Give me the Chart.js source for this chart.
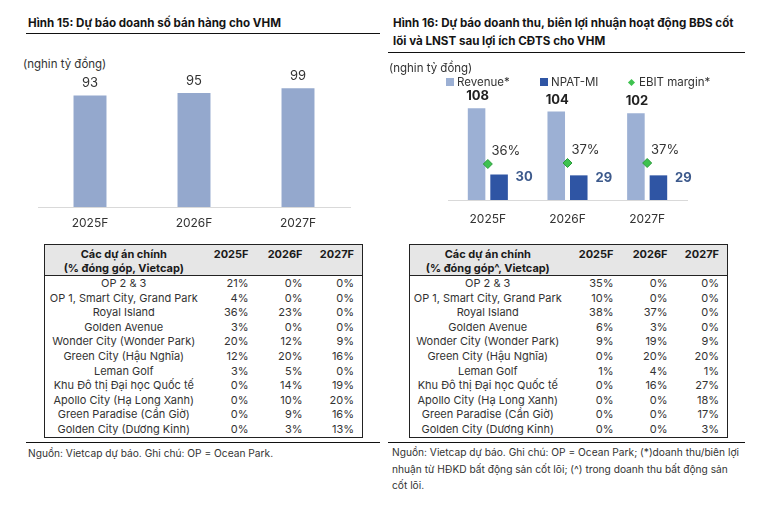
<!DOCTYPE html>
<html>
<head>
<meta charset="utf-8">
<script src="https://cdn.jsdelivr.net/npm/chart.js@4.4.1/dist/chart.umd.min.js"></script>
<style>
  body { margin: 0; width: 774px; height: 506px; background: #fff; font-family: Inter, sans-serif; color: #333; position: relative; overflow: hidden; }
  .abs { position: absolute; white-space: nowrap; }
  .title { font-weight: 700; font-size: 11.6px; line-height: 18px; color: #151515; }
  .rule { position: absolute; height: 1px; background: #111; }
  .unit { font-size: 11.5px; line-height: 14px; color: #333; }
  .note { font-size: 10.2px; line-height: 16.5px; color: #333; }
  .leg { font-size: 11.5px; line-height: 14px; color: #333; }
  .box { display: inline-block; width: 8px; height: 8px; margin-right: 3px; vertical-align: 0px; }
  table { position: absolute; border-collapse: collapse; border: 1px solid #222; font-size: 11px; color: #333; table-layout: fixed; }
  th { background: #e6e6e6; font-weight: 700; color: #1a1a1a; vertical-align: top; height: 30px; box-sizing: border-box; padding: 2px 8px 0 8px; line-height: 14px; text-align: right; border-bottom: 1px solid #222; }
  th.first { text-align: center; }
  td { padding: 0 8px; line-height: 14.6px; height: 14.6px; text-align: right; }
  td.first { text-align: center; padding: 0 2px; }
  canvas { position: absolute; }
</style>
</head>
<body>

<div class="abs title" style="left:28px;top:14px;">Hình 15: Dự báo doanh số bán hàng cho VHM</div>
<div class="rule" style="left:26px;top:33px;width:354px;"></div>
<div class="abs unit" style="left:23px;top:57px;">(nghin tỷ đồng)</div>
<div style="position:absolute;left:0;top:50px;width:390px;height:185px;"><canvas id="left"></canvas></div>

<div class="abs title" style="left:393px;top:14px;">Hình 16: Dự báo doanh thu, biên lợi nhuận hoạt động BĐS cốt<br>lõi và LNST sau lợi ích CĐTS cho VHM</div>
<div class="rule" style="left:388px;top:52px;width:357px;"></div>
<div class="abs unit" style="left:389px;top:61px;">(nghin tỷ đồng)</div>
<div class="abs leg" style="left:446px;top:75px;"><span class="box" style="background:#9cb0d4"></span>Revenue*</div>
<div class="abs leg" style="left:540px;top:75px;"><span class="box" style="background:#2f55a4"></span>NPAT-MI</div>
<div class="abs leg" style="left:629px;top:75px;"><span class="box" style="background:#3ec24f;width:5px;height:5px;transform:rotate(45deg);margin-right:5px;vertical-align:1px;"></span>EBIT margin*</div>
<div style="position:absolute;left:385px;top:60px;width:389px;height:175px;"><canvas id="right"></canvas></div>

<table id="tblLeft" style="left:44px;top:244px;width:318px;"></table>
<table id="tblRight" style="left:409px;top:244px;width:318px;"></table>

<div class="rule" style="left:26px;top:442px;width:354px;"></div>
<div class="abs note" style="left:28px;top:445px;">Nguồn: Vietcap dự báo. Ghi chú: OP = Ocean Park.</div>
<div class="rule" style="left:388px;top:442px;width:357px;"></div>
<div class="abs note" style="left:392px;top:444px;">Nguồn: Vietcap dự báo. Ghi chú: OP = Ocean Park; (*)doanh thu/biên lợi<br>nhuận từ HĐKD bất động sản cốt lõi; (^) trong doanh thu bất động sản<br>cốt lõi.</div>

<script>
const years = ['2025F', '2026F', '2027F'];
const presales = [93, 95, 99];
const revenue = [108, 104, 102];
const npatMi = [30, 29, 29];
const ebitMargin = [36, 37, 37];

const projects = ['OP 2 & 3', 'OP 1, Smart City, Grand Park', 'Royal Island', 'Golden Avenue',
  'Wonder City (Wonder Park)', 'Green City (Hậu Nghĩa)', 'Leman Golf', 'Khu Đô thị Đại học Quốc tế',
  'Apollo City (Hạ Long Xanh)', 'Green Paradise (Cần Giờ)', 'Golden City (Dương Kinh)'];
const salesShare2025 = [21, 4, 36, 3, 20, 12, 3, 0, 0, 0, 0];
const salesShare2026 = [0, 0, 23, 0, 12, 20, 5, 14, 10, 9, 3];
const salesShare2027 = [0, 0, 0, 0, 9, 16, 0, 19, 20, 16, 13];
const revShare2025 = [35, 10, 38, 6, 9, 0, 1, 0, 0, 0, 0];
const revShare2026 = [0, 0, 37, 3, 19, 20, 4, 16, 0, 0, 0];
const revShare2027 = [0, 0, 0, 0, 9, 20, 1, 27, 18, 17, 3];

Chart.defaults.font.family = 'Inter, sans-serif';
Chart.defaults.color = '#333';

function buildTable(id, headLines, cols, widths) {
    const t = document.getElementById(id);
    let html = '<colgroup>' + widths.map(w => `<col style="width:${w}px">`).join('') + '</colgroup>';
    html += `<tr><th class="first">${headLines}</th>` + years.map(y => `<th>${y}</th>`).join('') + '</tr>';
    projects.forEach((p, i) => {
        html += `<tr><td class="first">${p}</td>` + cols.map(c => `<td>${c[i]}%</td>`).join('') + '</tr>';
    });
    t.innerHTML = html;
}
buildTable('tblLeft', 'Các dự án chính<br>(% đóng góp, Vietcap)', [salesShare2025, salesShare2026, salesShare2027], [158, 54, 54, 52]);
buildTable('tblRight', 'Các dự án chính<br>(% đóng góp^, Vietcap)', [revShare2025, revShare2026, revShare2027], [156, 56, 54, 52]);

// value labels for left chart
const leftLabels = {
    id: 'leftLabels',
    afterDatasetsDraw(chart) {
        const ctx = chart.ctx;
        ctx.save();
        ctx.font = '13px Inter';
        ctx.fillStyle = '#333';
        ctx.textAlign = 'center';
        ctx.textBaseline = 'middle';
        chart.getDatasetMeta(0).data.forEach((bar, i) => {
            ctx.fillText(presales[i], bar.x, bar.y - 12);
        });
        ctx.restore();
    }
};

new Chart(document.getElementById('left'), {
    type: 'bar',
    data: {
        labels: years,
        datasets: [{
            label: 'Doanh số',
            data: presales,
            backgroundColor: '#94a8cd',
            categoryPercentage: 1,
            barPercentage: 0.317
        }]
    },
    options: {
        responsive: true,
        maintainAspectRatio: false,
        animation: false,
        layout: { padding: { left: 38, right: 40, top: 13, bottom: 0 } },
        plugins: { legend: { display: false }, tooltip: { enabled: false } },
        scales: {
            x: {
                grid: { display: false, drawTicks: false },
                border: { display: true, color: '#d9d9d9', width: 1 },
                ticks: { font: { size: 12 }, color: '#333', padding: 9 },
                afterFit: s => { s.height = 28; }
            },
            y: { display: false, min: 0, max: 120 }
        }
    },
    plugins: [leftLabels]
});

// value labels for right chart
const rightLabels = {
    id: 'rightLabels',
    afterDatasetsDraw(chart) {
        const ctx = chart.ctx;
        ctx.save();
        ctx.textBaseline = 'middle';
        ctx.textAlign = 'center';
        ctx.font = 'bold 13px Inter';
        ctx.fillStyle = '#222';
        chart.getDatasetMeta(0).data.forEach((bar, i) => {
            ctx.fillText(revenue[i], bar.x + 1, bar.y - 12);
        });
        ctx.fillStyle = '#3d5a8c';
        chart.getDatasetMeta(1).data.forEach((bar, i) => {
            ctx.fillText(npatMi[i], bar.x + 25, bar.y + 3);
        });
        ctx.font = '13px Inter';
        ctx.fillStyle = '#333';
        chart.getDatasetMeta(2).data.forEach((pt, i) => {
            ctx.fillText(ebitMargin[i] + '%', pt.x + 18, pt.y - 13);
        });
        ctx.restore();
    }
};

new Chart(document.getElementById('right'), {
    type: 'bar',
    data: {
        labels: years,
        datasets: [{
            label: 'Revenue*',
            data: revenue,
            backgroundColor: '#9cb0d4',
            categoryPercentage: 0.565,
            barPercentage: 0.78,
            order: 2
        }, {
            label: 'NPAT-MI',
            data: npatMi,
            backgroundColor: '#2f55a4',
            categoryPercentage: 0.565,
            barPercentage: 0.78,
            order: 2
        }, {
            type: 'line',
            label: 'EBIT margin*',
            data: ebitMargin,
            yAxisID: 'y2',
            showLine: false,
            pointStyle: 'rectRot',
            pointRadius: 4.5,
            pointBackgroundColor: '#3ec24f',
            pointBorderColor: '#2b9a3c',
            pointBorderWidth: 1,
            order: 1
        }]
    },
    options: {
        responsive: true,
        maintainAspectRatio: false,
        animation: false,
        layout: { padding: { left: 63, right: 87, top: 21, bottom: 0 } },
        plugins: { legend: { display: false }, tooltip: { enabled: false } },
        scales: {
            x: {
                grid: { display: false, drawTicks: false },
                border: { display: true, color: '#d9d9d9', width: 1 },
                ticks: { font: { size: 12 }, color: '#333', padding: 12 },
                afterFit: s => { s.height = 35; }
            },
            y: { display: false, min: 0, max: 140 },
            y2: { display: false, min: 0, max: 119 }
        }
    },
    plugins: [rightLabels]
});
</script>
</body>
</html>
